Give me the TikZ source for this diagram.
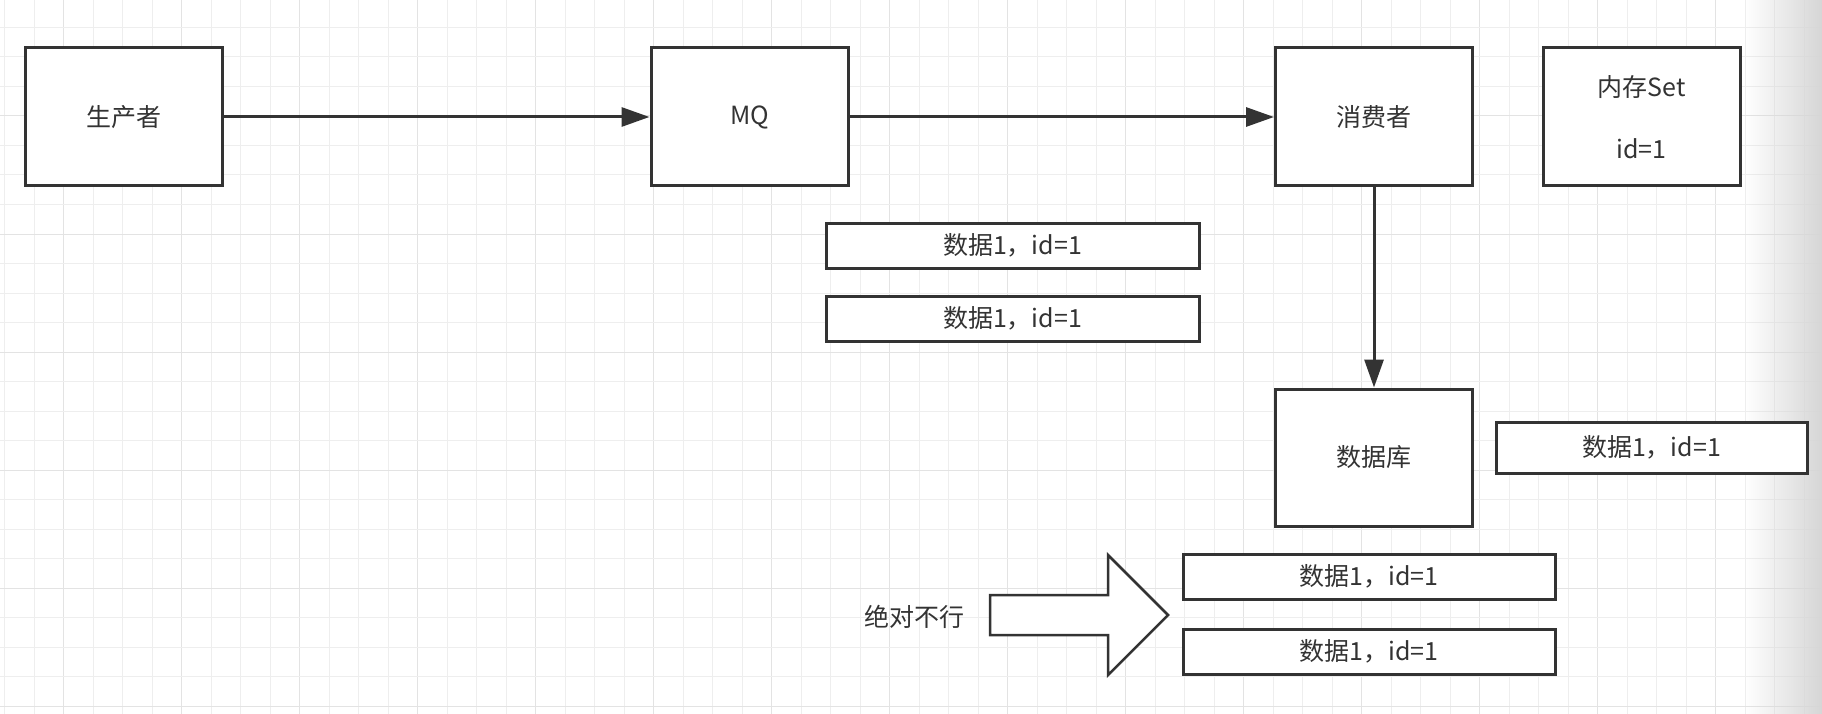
\documentclass[tikz,border=0pt]{standalone}
\usepackage{fontspec}
\setmainfont{Noto Sans CJK SC}
\usetikzlibrary{arrows.meta,fadings}
\definecolor{ink}{HTML}{333333}
\definecolor{gridminor}{HTML}{EEEEEE}
\definecolor{gridmajor}{HTML}{E3E3E3}
\tikzset{
  base/.style={draw=ink, line width=3pt, fill=white, text=ink, font=\fontsize{25}{30}\selectfont, inner sep=0pt, align=center},
  bigbox/.style={base, minimum width=197pt, minimum height=138pt},
  databox/.style={base, minimum height=45pt},
  conn/.style={draw=ink, line width=3pt, -{Triangle[length=28pt,width=19pt]}},
  lbl/.style={text=ink, font=\fontsize{25}{30}\selectfont, inner sep=0pt},
}
\begin{document}
\begin{tikzpicture}[x=1pt,y=-1pt]
\useasboundingbox (0,0) rectangle (1822,714);
\fill[white] (0,0) rectangle (1822,714);
% grid
\foreach \k in {0,...,62}{
  \pgfmathsetmacro\xx{4.7+29.5*\k}
  \pgfmathtruncatemacro\m{mod(\k,4)}
  \ifnum\m=2
    \draw[gridmajor, line width=1pt] (\xx,0) -- (\xx,714);
  \else
    \draw[gridminor, line width=1pt] (\xx,0) -- (\xx,714);
  \fi
}
\foreach \k in {0,...,25}{
  \pgfmathsetmacro\yy{-2+29.5*\k}
  \pgfmathtruncatemacro\m{mod(\k,4)}
  \ifnum\m=0
    \draw[gridmajor, line width=1pt] (0,\yy) -- (1822,\yy);
  \else
    \draw[gridminor, line width=1pt] (0,\yy) -- (1822,\yy);
  \fi
}
% right edge shadow
\fill[black!16, path fading=west] (1745,0) rectangle (1822,714);

% main boxes
\node[bigbox] (prod) at (123.5,117) {生产者};
\node[bigbox] (mq) at (749.5,117) {MQ};
\node[bigbox] (cons) at (1374,117) {消费者};
\node[bigbox] (mem) at (1641.5,117) {内存Set\\[32pt]id=1};
\node[bigbox, minimum height=137pt] (db) at (1374,457.5) {数据库};

% data boxes
\node[databox, minimum width=373pt] (d1) at (1012.5,245.5) {数据1，id=1};
\node[databox, minimum width=373pt] (d2) at (1012.5,318.5) {数据1，id=1};
\node[databox, minimum width=311pt, minimum height=51pt] (d3) at (1651.5,447.5) {数据1，id=1};
\node[databox, minimum width=372pt] (d4) at (1369,576.5) {数据1，id=1};
\node[databox, minimum width=372pt] (d5) at (1369,651.5) {数据1，id=1};

% connectors
\draw[conn] (prod.east) -- (mq.west);
\draw[conn] (mq.east) -- (cons.west);
\draw[conn] (cons.south) -- (db.north);

% big arrow
\draw[draw=ink, line width=2.5pt, fill=white, line join=miter]
  (990,595) -- (1108,595) -- (1108,555) -- (1168,615) -- (1108,675) -- (1108,635) -- (990,635) -- cycle;
\node[lbl] (never) at (914,617) {绝对不行};
\end{tikzpicture}
\end{document}
